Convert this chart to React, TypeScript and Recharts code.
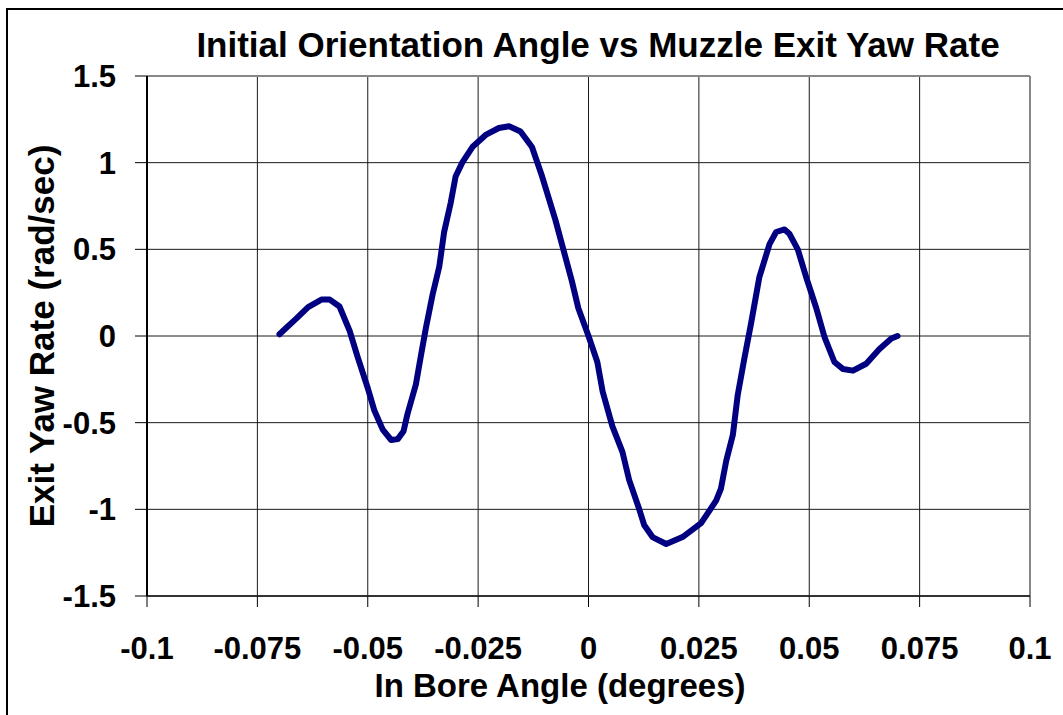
import { LineChart, Line, XAxis, YAxis, CartesianGrid, ReferenceLine } from 'recharts'

const angle = [
  -0.07, -0.0688, -0.0662, -0.0635, -0.0605, -0.0586, -0.0564, -0.0541, -0.0523, -0.05,
  -0.0485, -0.0466, -0.0447, -0.0432, -0.0419, -0.041, -0.0391, -0.038, -0.0368, -0.0353,
  -0.0338, -0.0327, -0.0312, -0.0301, -0.0286, -0.0263, -0.0233, -0.0203, -0.018, -0.0154,
  -0.0128, -0.0105, -0.0075, -0.0038, -0.0023, 0, 0.002, 0.0032, 0.0054, 0.0077,
  0.0092, 0.0115, 0.0126, 0.0145, 0.0176, 0.0213, 0.0255, 0.0289, 0.03, 0.0312,
  0.0327, 0.0338, 0.0353, 0.0368, 0.038, 0.0387, 0.041, 0.0425, 0.0444, 0.0455,
  0.0474, 0.0493, 0.0516, 0.0535, 0.0557, 0.0576, 0.0599, 0.0629, 0.0659, 0.0686,
  0.07,
]
const yawRate = [
  0.01, 0.039, 0.1, 0.167, 0.21, 0.21, 0.17, 0.03, -0.12, -0.3,
  -0.43, -0.54, -0.6, -0.595, -0.55, -0.45, -0.28, -0.12, 0.05, 0.24,
  0.4, 0.6, 0.77, 0.92, 1.0, 1.09, 1.16, 1.2, 1.21, 1.18,
  1.09, 0.92, 0.67, 0.32, 0.16, 0, -0.15, -0.32, -0.52, -0.67,
  -0.83, -1.0, -1.09, -1.16, -1.2, -1.16, -1.08, -0.95, -0.88, -0.72,
  -0.57, -0.34, -0.13, 0.07, 0.24, 0.34, 0.53, 0.6, 0.615, 0.59,
  0.5, 0.34, 0.16, -0.01, -0.15, -0.19, -0.2, -0.16, -0.075, -0.015,
  0,
]
const xTicks = [-0.1, -0.075, -0.05, -0.025, 0, 0.025, 0.05, 0.075, 0.1]
const yTicks = [-1.5, -1, -0.5, 0, 0.5, 1, 1.5]

const FONT = '"Liberation Sans", Arial, sans-serif'

export default function App() {
  const data = angle.map((a, i) => ({ angle: a, rate: yawRate[i] }))
  const tick = { fill: '#000', fontSize: 31, fontWeight: 700, fontFamily: FONT }

  return (
    <div style={{ position: 'fixed', left: 0, top: 0, width: 1063, height: 715, overflow: 'hidden', background: '#fff' }}>
      <div
        style={{
          position: 'absolute', left: 598, top: 27, transform: 'translateX(-50%)', whiteSpace: 'nowrap',
          fontFamily: FONT, fontWeight: 700, fontSize: 35, lineHeight: '35px',
        }}
      >
        Initial Orientation Angle vs Muzzle Exit Yaw Rate
      </div>
      <div
        style={{
          position: 'absolute', left: 560, top: 669, transform: 'translateX(-50%)', whiteSpace: 'nowrap',
          fontFamily: FONT, fontWeight: 700, fontSize: 33, lineHeight: '33px',
        }}
      >
        In Bore Angle (degrees)
      </div>
      <div
        style={{
          position: 'absolute', left: 41, top: 336, transform: 'translate(-50%, -50%) rotate(-90deg)', whiteSpace: 'nowrap',
          fontFamily: FONT, fontWeight: 700, fontSize: 35, lineHeight: '35px',
        }}
      >
        Exit Yaw Rate (rad/sec)
      </div>
      <div style={{ position: 'absolute', left: 0, top: 0 }}>
        <LineChart width={1063} height={715} data={data} margin={{ top: 76, right: 33, bottom: 0, left: 0 }}>
          <CartesianGrid stroke="#1a1a1a" strokeWidth={1} />
          <XAxis
            type="number"
            dataKey="angle"
            domain={[-0.1, 0.1]}
            ticks={xTicks}
            height={119}
            tick={tick}
            tickSize={11}
            tickMargin={30}
            axisLine={{ stroke: '#333', strokeWidth: 2 }}
            tickLine={{ stroke: '#000' }}
          />
          <YAxis
            type="number"
            domain={[-1.5, 1.5]}
            ticks={yTicks}
            width={147}
            tick={tick}
            tickSize={12}
            tickMargin={19}
            axisLine={{ stroke: '#000', strokeWidth: 2 }}
            tickLine={{ stroke: '#000' }}
          />
          <ReferenceLine y={1.5} stroke="#888" strokeWidth={2} />
          <ReferenceLine x={0.1} stroke="#888" strokeWidth={2} />
          <Line
            type="linear"
            dataKey="rate"
            stroke="#000080"
            strokeWidth={6}
            strokeLinejoin="round"
            strokeLinecap="round"
            dot={false}
            isAnimationActive={false}
          />
        </LineChart>
      </div>
      <div
        style={{
          position: 'absolute', left: 6, top: 8, width: 1100, height: 800,
          borderLeft: '2px solid #000', borderTop: '2px solid #000', pointerEvents: 'none', zIndex: 5,
        }}
      />
    </div>
  )
}
